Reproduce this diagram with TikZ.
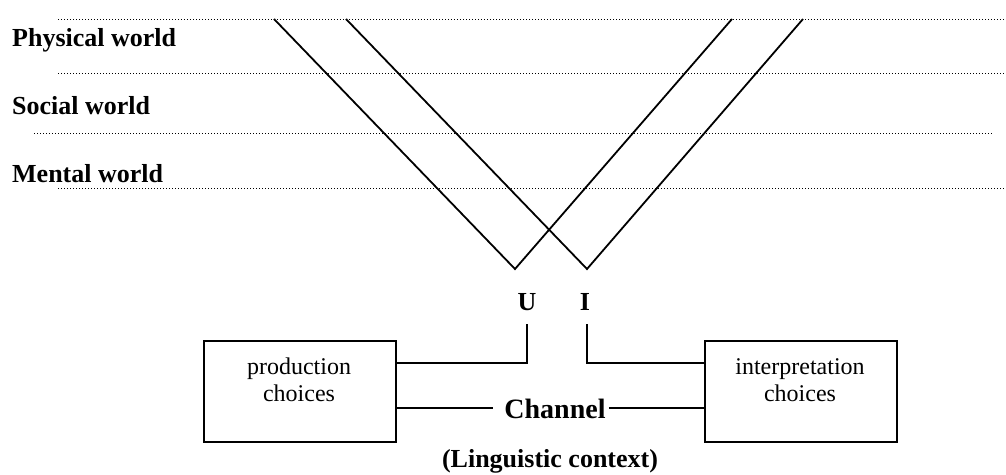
\documentclass[tikz,border=0pt]{standalone}
\usepackage{fontspec}
\setmainfont{Liberation Serif}
\begin{document}
\begin{tikzpicture}[x=1pt,y=-1pt,
  lbl/.style={font=\fontsize{26}{30}\selectfont\bfseries, inner sep=0pt},
  btxt/.style={font=\fontsize{24}{27}\selectfont, align=center, inner sep=0pt},
  boxnode/.style={draw, line width=2pt, minimum width=192pt, minimum height=101pt, inner sep=0pt},
  dots/.style={line width=1pt, dash pattern=on 1pt off 2pt},
  vline/.style={line width=1.8pt},
  conn/.style={line width=1.8pt}]
\useasboundingbox (0,0) rectangle (1006,474);

% dotted world boundaries
\draw[dots] (58,19) -- (1006,19);
\draw[dots] (58,73) -- (1006,73);
\draw[dots] (34,133) -- (993,133);
\draw[dots] (58,188) -- (1006,188);

% world labels
\node[lbl, anchor=base west] (phys) at (12,46) {Physical world};
\node[lbl, anchor=base west] (soc) at (12,114) {Social world};
\node[lbl, anchor=base west] (ment) at (12,182) {Mental world};

% V lines
\coordinate (v1a) at (274,19);
\coordinate (v1b) at (515,269);
\coordinate (v1c) at (732,19);
\coordinate (v2a) at (346,19);
\coordinate (v2b) at (587,269);
\coordinate (v2c) at (803,19);
\draw[vline] (v1a) -- (v1b) -- (v1c);
\draw[vline] (v2a) -- (v2b) -- (v2c);

% U and I
\node[lbl, anchor=base] (U) at (527,310) {U};
\node[lbl, anchor=base] (I) at (585,310) {I};

% boxes
\node[boxnode, anchor=north west] (prod) at (203,340) {};
\node[boxnode, anchor=north west] (interp) at (704,340) {};
\node[btxt, anchor=base] (prodt) at (299,401) {production\\choices};
\node[btxt, anchor=base] (interpt) at (800,401) {interpretation\\choices};

% channel
\node[lbl, font=\fontsize{28}{32}\selectfont\bfseries, inner xsep=3pt] (chan) at (555,409) {Channel};
\node[lbl, anchor=base] (ctx) at (550,467) {(Linguistic context)};

% connectors
\coordinate (utop) at (527,324);
\coordinate (itop) at (587,324);
\draw[conn] ([yshift=-23pt]prod.north east) -| (utop);
\draw[conn] (itop) |- ([yshift=-23pt]interp.north west);
\draw[conn] ([yshift=-68pt]prod.north east) -- ([xshift=-8pt]chan.west |- 0,408);
\draw[conn] (chan.east |- 0,408) -- ([yshift=-68pt]interp.north west);
\end{tikzpicture}
\end{document}
